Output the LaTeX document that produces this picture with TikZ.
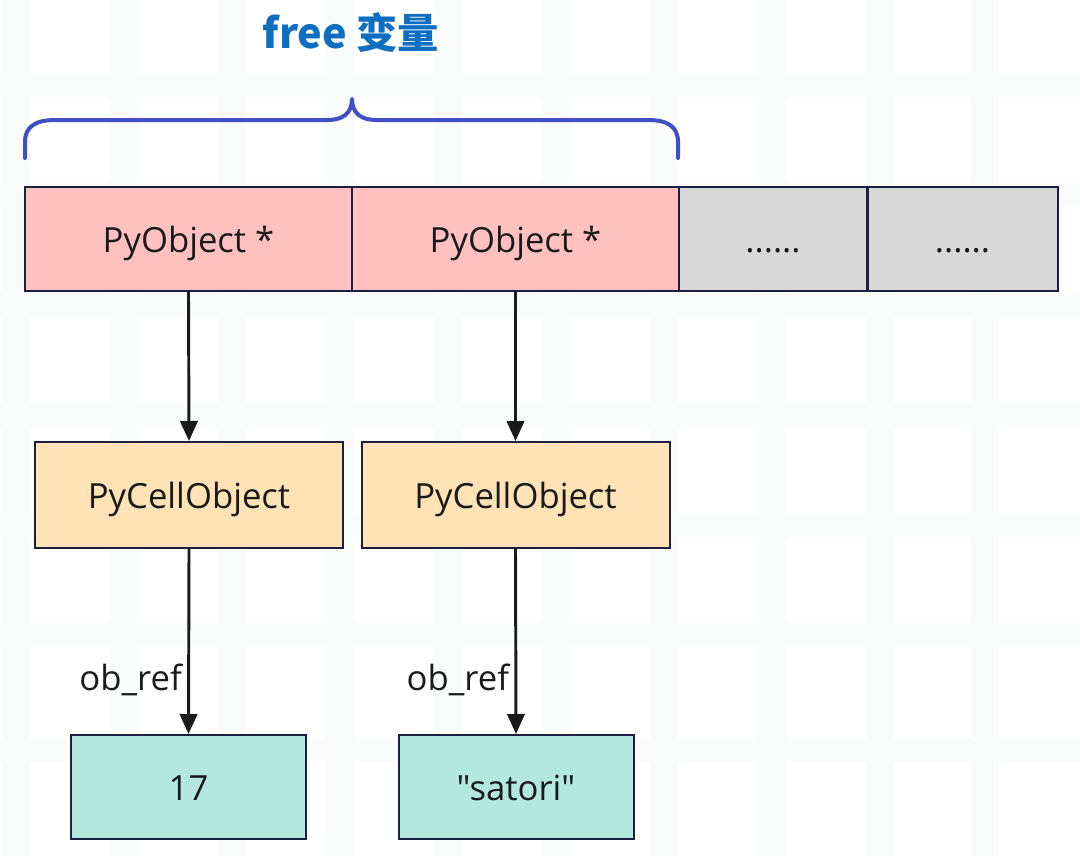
\documentclass[tikz,border=0pt]{standalone}
\usepackage{fontspec}
\setmainfont{Open Sans}[Ligatures=TeXOff]
\newfontfamily\cjk{Noto Sans CJK SC}
\usetikzlibrary{arrows.meta}
\definecolor{pinkf}{HTML}{FFC0C0}
\definecolor{grayf}{HTML}{D8D8D8}
\definecolor{orangef}{HTML}{FFE3B6}
\definecolor{tealf}{HTML}{B3E8DE}
\definecolor{edge}{HTML}{1C1F3F}
\definecolor{titleblue}{HTML}{0E6EC0}
\definecolor{braceblue}{HTML}{4050C4}
\definecolor{band}{HTML}{FAFBFB}
\definecolor{inkc}{HTML}{1A1A1A}
\tikzset{
  cellbox/.style={draw=edge, line width=1.5pt, rectangle, inner sep=0pt, text=inkc,
    font=\fontsize{26}{30}\selectfont, text height=25pt, text depth=5pt},
  toprow/.style={cellbox, minimum height=78pt},
  pyobj/.style={toprow, fill=pinkf, minimum width=245.25pt},
  grayw/.style={toprow, fill=grayf},
  pycell/.style={cellbox, fill=orangef, minimum width=231pt, minimum height=79.5pt},
  valbox/.style={cellbox, fill=tealf, minimum width=176.25pt, minimum height=78pt},
  arr/.style={draw=inkc, line width=2.2pt, -{Triangle[length=15pt,width=13pt]}},
  lbl/.style={font=\fontsize{26}{30}\selectfont, text=inkc, inner sep=0pt}
}
\begin{document}
\begin{tikzpicture}[x=0.75pt,y=-0.75pt]
\useasboundingbox (0,0) rectangle (1080,856);
\fill[white] (0,0) rectangle (1080,856);
% faint background grid bands
\foreach \cx in {16,124,232,340,448,556,664,772,880,985}{
  \fill[band] (\cx-14,0) rectangle (\cx+14,856);
}
\foreach \cy in {85,195,305,415,525,635,750}{
  \fill[band] (0,\cy-12) rectangle (1080,\cy+12);
}
% title
\node[text=titleblue, font=\cjk\bfseries\fontsize{31}{36}\selectfont] (title) at (351,33) {free 变量};
% brace
\draw[braceblue, line width=3pt, line cap=round, line join=round]
  (25,158) -- (25,142) .. controls (25,127) and (35,120) .. (55,120) -- (328,120)
  .. controls (343,120) and (352,113) .. (352,99)
  .. controls (352,113) and (361,120) .. (376,120) -- (648,120)
  .. controls (668,120) and (678,127) .. (678,142) -- (678,158);
% top row
\node[pyobj] (p1) at (188.5,239) {PyObject *};
\node[pyobj] (p2) at (515.5,239) {PyObject *};
\node[grayw, minimum width=141pt] (g1) at (773,239) {......};
\node[grayw, minimum width=142.5pt] (g2) at (962.5,239) {......};
% cells
\node[pycell] (c1) at (189,495) {PyCellObject};
\node[pycell] (c2) at (515.5,495) {PyCellObject};
% values
\node[valbox] (v1) at (188.5,787) {17};
\node[valbox] (v2) at (516,787) {"satori"};
% arrows
\draw[arr] (p1.south) -- (c1.north);
\draw[arr] (p2.south) -- (c2.north);
\draw[arr] (c1.south) -- node[lbl, pos=0.71, anchor=east, xshift=-4pt] {ob\_ref} (v1.north);
\draw[arr] (c2.south) -- node[lbl, pos=0.71, anchor=east, xshift=-4pt] {ob\_ref} (v2.north);
\end{tikzpicture}
\end{document}
